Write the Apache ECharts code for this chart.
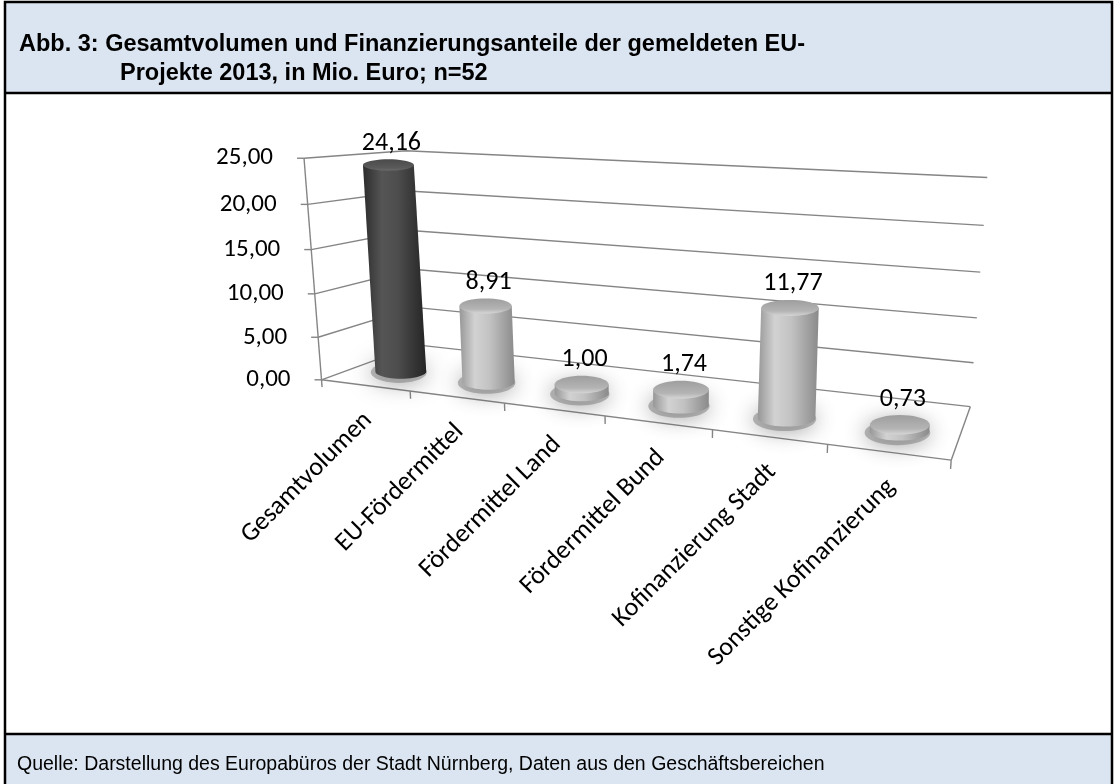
<!DOCTYPE html>
<html>
<head>
<meta charset="utf-8">
<script src="https://cdn.jsdelivr.net/npm/echarts@6/dist/echarts.min.js"></script>
<style>html,body{margin:0;padding:0;background:#fff}#main{width:1116px;height:784px}</style>
</head>
<body>
<div id="main"></div>
<script>
// ---- data ----
const categories = ['Gesamtvolumen', 'EU-Fördermittel', 'Fördermittel Land', 'Fördermittel Bund', 'Kofinanzierung Stadt', 'Sonstige Kofinanzierung'];
const values = [24.16, 8.91, 1.00, 1.74, 11.77, 0.73];
const yTicks = [0, 5, 10, 15, 20, 25];
const titleLine1 = 'Abb. 3: Gesamtvolumen und Finanzierungsanteile der gemeldeten EU-';
const titleLine2 = 'Projekte 2013, in Mio. Euro; n=52';
const sourceText = 'Quelle: Darstellung des Europabüros der Stadt Nürnberg, Daten aus den Geschäftsbereichen';

const fmt = v => v.toFixed(2).replace('.', ',');
const LBL_FONT = "Carlito, Lato, 'Open Sans', sans-serif";
const LBL_SIZE = 25;

// ---- perspective projection fitted to the box corners (relative to grid rect) ----
let projCache = null, projKey = '';
function getProj(cs) {
  const key = [cs.x, cs.y, cs.width, cs.height].join(',');
  if (projKey === key) return projCache;
  const gx = cs.x, gy = cs.y, gw = cs.width, gh = cs.height, by = gy + gh;
  // [s,t,z, u,v]  s: category direction, t: value direction, z: depth
  const pairs = [
    [0, 0, 0, gx, by],
    [0, 1, 0, gx - 18, gy],
    [0, 0, 1, gx + 96, by - 32],
    [0, 1, 1, gx + 86, gy - 14],
    [1, 0, 1, gx + gw + 16, by + 31],
    [1, 1, 1, gx + gw + 34, gy + 15],
    [1, 0, 0, gx + gw, by + 80]
  ];
  const cu = 640, cv = 300, sc = 300;
  const n = 11;
  const M = [];
  for (let i = 0; i < n; i++) M.push(new Array(n + 1).fill(0));
  const addRow = (r, b) => {
    for (let i = 0; i < n; i++) {
      for (let j = 0; j < n; j++) M[i][j] += r[i] * r[j];
      M[i][n] += r[i] * b;
    }
  };
  pairs.forEach(([s, t, z, u, v]) => {
    const un = (u - cu) / sc, vn = (v - cv) / sc;
    addRow([s, t, z, 1, 0, 0, 0, 0, -un * s, -un * t, -un * z], un);
    addRow([0, 0, 0, 0, s, t, z, 1, -vn * s, -vn * t, -vn * z], vn);
  });
  for (let c = 0; c < n; c++) {
    let piv = c;
    for (let r = c + 1; r < n; r++) if (Math.abs(M[r][c]) > Math.abs(M[piv][c])) piv = r;
    [M[c], M[piv]] = [M[piv], M[c]];
    for (let r = 0; r < n; r++) {
      if (r === c) continue;
      const f = M[r][c] / M[c][c];
      for (let k = c; k <= n; k++) M[r][k] -= f * M[c][k];
    }
  }
  const p = M.map((row, i) => row[n] / row[i]);
  projCache = function (s, t, z) {
    const w = p[8] * s + p[9] * t + p[10] * z + 1;
    return [(p[0] * s + p[1] * t + p[2] * z + p[3]) / w * sc + cu,
            (p[4] * s + p[5] * t + p[6] * z + p[7]) / w * sc + cv];
  };
  projKey = key;
  return projCache;
}
function toST(cs, pt) {
  return [(pt[0] - cs.x) / cs.width, (cs.y + cs.height - pt[1]) / cs.height];
}

const GRID_COLOR = '#858585';

// ---- walls, gridlines, floor, value-axis tick labels ----
function renderFrame(params, api) {
  const cs = params.coordSys, proj = getProj(cs);
  const v = api.value(1);
  const t = toST(cs, api.coord([0, v]))[1];
  const p0 = proj(0, t, 0), p1 = proj(0, t, 1), p2 = proj(1, t, 1);
  const ls = { stroke: GRID_COLOR, lineWidth: 1.4, fill: null };
  const children = [
    { type: 'polyline', shape: { points: [p0, p1, p2] }, style: ls },
    { type: 'line', shape: { x1: p0[0] - 7, y1: p0[1], x2: p0[0], y2: p0[1] }, style: ls },
    { type: 'text', x: p0[0] - 31, y: p0[1],
      style: { text: fmt(v), align: 'right', verticalAlign: 'middle', fontSize: LBL_SIZE, fontFamily: LBL_FONT, fill: '#000' } }
  ];
  if (params.dataIndex === 0) {
    const a = proj(0, 0, 0), b = proj(0, 1, 0), g = proj(1, 0, 0), e = proj(1, 0, 1);
    children.push({ type: 'line', shape: { x1: a[0], y1: a[1], x2: b[0], y2: b[1] }, style: ls });
    children.push({ type: 'line', shape: { x1: a[0], y1: a[1], x2: g[0], y2: g[1] }, style: ls });
    children.push({ type: 'line', shape: { x1: g[0], y1: g[1], x2: e[0], y2: e[1] }, style: ls });
    const bw = api.size([1, 0])[0];
    for (let k = 0; k <= categories.length; k++) {
      const edge = api.coord([Math.min(k, categories.length - 1), 0]);
      const ex = k < categories.length ? edge[0] - bw / 2 : edge[0] + bw / 2;
      const s = toST(cs, [ex, edge[1]])[0];
      const q = proj(s, 0, 0), q2 = proj(s, -0.035, 0);
      children.push({ type: 'line', shape: { x1: q[0], y1: q[1], x2: q2[0], y2: q2[1] }, style: ls });
    }
  }
  return { type: 'group', children };
}

// ---- cylinders ----
function ellipsePts(cx, cy, rx, ry, a0, a1, n) {
  const pts = [];
  for (let i = 0; i <= n; i++) {
    const a = a0 + (a1 - a0) * i / n;
    pts.push([cx + rx * Math.cos(a), cy + ry * Math.sin(a)]);
  }
  return pts;
}
function renderCyl(params, api) {
  const cs = params.coordSys, proj = getProj(cs);
  const i = api.value(0), v = api.value(1);
  const top = api.coord([i, v]);
  const bw = api.size([1, 0])[0];
  const st = toST(cs, top);
  const sc = st[0], t = st[1];
  const zc = 0.36;
  const bC = proj(sc, 0, zc), tC = proj(sc, t, zc);
  const rsP = bw * 0.28 / cs.width;
  const projW = proj(sc + rsP, 0, zc)[0] - proj(sc - rsP, 0, zc)[0];
  const rx = (0.5 * projW + 0.5 * 54) / 2;
  const rxB = rx, rxT = rx;
  const ryB = rxB * 0.3, ryT = rxT * (0.22 + 0.11 * (1 - t));
  const tL = [tC[0] - rxT, tC[1]], tR = [tC[0] + rxT, tC[1]];
  const dark = i === 0;
  const bodyGrad = new echarts.graphic.LinearGradient(0, 0, 1, 0, dark ? [
    { offset: 0, color: '#2c2c2c' }, { offset: 0.3, color: '#555555' }, { offset: 0.55, color: '#4d4d4d' }, { offset: 1, color: '#242424' }
  ] : [
    { offset: 0, color: '#979797' }, { offset: 0.28, color: '#d2d2d2' }, { offset: 0.55, color: '#c2c2c2' }, { offset: 1, color: '#8a8a8a' }
  ]);
  const topGrad = new echarts.graphic.LinearGradient(0, 0, 0, 1, dark ? [
    { offset: 0, color: '#4a4a4a' }, { offset: 0.75, color: '#5a5a5a' }, { offset: 1, color: '#6a6a6a' }
  ] : [
    { offset: 0, color: '#9e9e9e' }, { offset: 0.7, color: '#b4b4b4' }, { offset: 1, color: '#d6d6d6' }
  ]);
  const body = [tL].concat(ellipsePts(bC[0], bC[1], rxB, ryB, Math.PI, 0, 24)).concat([tR]);
  return {
    type: 'group',
    children: [
      { type: 'polygon', shape: { points: ellipsePts(bC[0] - 2, bC[1] + 1, rxB * 1.1, ryB * 1.4, 0, Math.PI * 2, 40) },
        style: { fill: 'rgba(120,120,120,0.5)', shadowBlur: 22, shadowColor: 'rgba(60,60,60,1)' } },
      { type: 'polygon', shape: { points: body }, style: { fill: bodyGrad } },
      { type: 'polygon', shape: { points: ellipsePts(tC[0], tC[1], rxT, ryT, 0, Math.PI * 2, 40) }, style: { fill: topGrad } },
      { type: 'text', x: tC[0] + 3, y: tC[1] - ryT - 3,
        style: { text: fmt(v), align: 'center', verticalAlign: 'bottom', fontSize: LBL_SIZE + 1, fontFamily: LBL_FONT, fill: '#000' } }
    ]
  };
}

// ---- category labels (rotated, ending below the front floor edge at each category) ----
function renderCat(params, api) {
  const cs = params.coordSys, proj = getProj(cs);
  const i = api.value(0);
  const si = toST(cs, api.coord([i, 0]))[0];
  const q = proj(si, 0, 0);
  return {
    type: 'text', x: q[0] + 3, y: q[1] + 31, rotation: Math.PI / 4,
    style: { text: categories[i], align: 'right', verticalAlign: 'middle', fontSize: LBL_SIZE + 1, fontFamily: LBL_FONT, fill: '#000' }
  };
}

const chart = echarts.init(document.getElementById('main'), null, { renderer: 'canvas' });
const HEADER_BG = '#dbe5f1';
const ARIAL = "'Liberation Sans', Arial, sans-serif";
chart.setOption({
  animation: false,
  backgroundColor: '#ffffff',
  grid: { left: 321, top: 162, width: 632, height: 216 },
  xAxis: { type: 'category', data: categories, show: false },
  yAxis: { type: 'value', min: 0, max: 25, interval: 5, show: false },
  graphic: [
    { type: 'rect', shape: { x: 5, y: 2, width: 1107, height: 91 }, style: { fill: HEADER_BG }, z: -10 },
    { type: 'rect', shape: { x: 5, y: 734, width: 1107, height: 52 }, style: { fill: HEADER_BG }, z: -10 },
    { type: 'rect', shape: { x: 5, y: 2, width: 1107, height: 790 }, style: { fill: null, stroke: '#000', lineWidth: 2.5 }, z: 10 },
    { type: 'line', shape: { x1: 5, y1: 93, x2: 1112, y2: 93 }, style: { stroke: '#000', lineWidth: 2.5 }, z: 10 },
    { type: 'line', shape: { x1: 5, y1: 734, x2: 1112, y2: 734 }, style: { stroke: '#000', lineWidth: 2.5 }, z: 10 },
    { type: 'text', x: 19, y: 45, style: { text: titleLine1, fontSize: 23.5, fontWeight: 'bold', fontFamily: ARIAL, fill: '#000', verticalAlign: 'middle' }, z: 10 },
    { type: 'text', x: 120, y: 74, style: { text: titleLine2, fontSize: 23.5, fontWeight: 'bold', fontFamily: ARIAL, fill: '#000', verticalAlign: 'middle' }, z: 10 },
    { type: 'text', x: 17, y: 765, style: { text: sourceText, fontSize: 19.5, fontFamily: ARIAL, fill: '#000', verticalAlign: 'middle' }, z: 10 }
  ],
  series: [
    { type: 'custom', name: 'frame', coordinateSystem: 'cartesian2d', clip: false, z: 1,
      data: yTicks.map(v => [0, v]), renderItem: renderFrame, silent: true },
    { type: 'custom', name: 'labels', coordinateSystem: 'cartesian2d', clip: false, z: 1,
      data: categories.map((c, i) => [i, 0]), renderItem: renderCat, silent: true },
    { type: 'custom', name: 'Mio. Euro', coordinateSystem: 'cartesian2d', clip: false, z: 3,
      data: values.map((v, i) => [i, v]), renderItem: renderCyl }
  ]
});
</script>
</body>
</html>
